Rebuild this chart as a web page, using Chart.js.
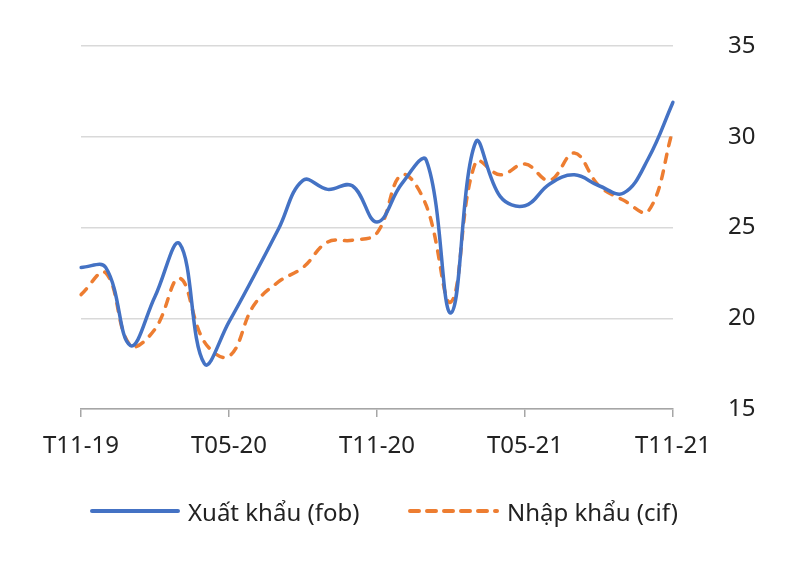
<!DOCTYPE html>
<html>
<head>
<meta charset="utf-8">
<script src="https://cdn.jsdelivr.net/npm/chart.js@4"></script>
<style>
  html, body { margin: 0; padding: 0; background: #fff; }
  #wrap { position: relative; width: 800px; height: 561px; font-family: 'Noto Sans', sans-serif; }
  .leg { position: absolute; top: 494px; height: 34px; display: flex; align-items: center;
         font-size: 24px; color: #222; white-space: nowrap; }
  .leg svg { margin-right: 8px; }
</style>
</head>
<body>
<div id="wrap">
  <canvas id="chart" width="800" height="561"></canvas>
  <div class="leg" style="left:90px">
    <svg width="90" height="10"><line x1="2" y1="5" x2="88" y2="5" stroke="#4472C4" stroke-width="4" stroke-linecap="round"/></svg>
    <span>Xuất khẩu (fob)</span>
  </div>
  <div class="leg" style="left:407px">
    <svg width="92" height="10"><line x1="3" y1="5" x2="90" y2="5" stroke="#ED7D31" stroke-width="4" stroke-linecap="round" stroke-dasharray="9 8"/></svg>
    <span>Nhập khẩu (cif)</span>
  </div>
</div>
<script>
var labels = ['T11-19', 'T12-19', 'T01-20', 'T02-20', 'T03-20', 'T04-20', 'T05-20', 'T06-20', 'T07-20',
              'T08-20', 'T09-20', 'T10-20', 'T11-20', 'T12-20', 'T01-21', 'T02-21', 'T03-21', 'T04-21',
              'T05-21', 'T06-21', 'T07-21', 'T08-21', 'T09-21', 'T10-21', 'T11-21'];
var xuatKhau = [22.8, 22.8, 18.5, 21.2, 24.1, 17.5, 19.8, 22.3, 24.9, 27.6, 27.1, 27.3, 25.3,
                27.4, 28.7, 20.3, 29.7, 26.7, 26.2, 27.4, 27.9, 27.3, 26.9, 28.8, 31.9];
var nhapKhau = [21.3, 22.5, 18.5, 19.4, 22.2, 18.7, 17.9, 20.7, 22.0, 22.8, 24.2, 24.3, 24.7,
                27.9, 26.2, 20.9, 28.6, 27.9, 28.5, 27.6, 29.1, 27.3, 26.5, 25.9, 30.4];
var yTicks = [15, 20, 25, 30, 35];

var FONT = { family: "'Noto Sans', sans-serif", size: 24 };
var TEXT = '#222';

new Chart(document.getElementById('chart'), {
    type: 'line',
    data: {
        labels: labels,
        datasets: [
            { label: 'Xuất khẩu (fob)', data: xuatKhau, borderColor: '#4472C4', backgroundColor: '#4472C4',
              borderWidth: 3.5, pointRadius: 0, tension: 0.4, borderCapStyle: 'round' },
            { label: 'Nhập khẩu (cif)', data: nhapKhau, borderColor: '#ED7D31', backgroundColor: '#ED7D31',
              borderWidth: 3.5, pointRadius: 0, tension: 0.4, borderDash: [8, 9], borderCapStyle: 'round' }
        ]
    },
    options: {
        responsive: false,
        animation: false,
        layout: { padding: { left: 81, right: 37, top: 46, bottom: 92 } },
        plugins: {
            tooltip: { enabled: false },
            legend: { display: false }
        },
        scales: {
            x: {
                offset: false,
                grid: {
                    drawOnChartArea: false, tickLength: 8, lineWidth: 1.5,
                    color: function (ctx) { return ctx.index % 6 === 0 ? '#a6a6a6' : 'rgba(0,0,0,0)'; }
                },
                border: { color: '#a6a6a6', width: 1.5 },
                ticks: {
                    color: TEXT, font: FONT, autoSkip: false, maxRotation: 0, padding: 15,
                    callback: function (val, i) { return i % 6 === 0 ? labels[i] : ''; }
                },
                afterFit: function (scale) { scale.height = 60; }
            },
            y: {
                position: 'right',
                min: 15, max: 35,
                afterBuildTicks: function (scale) { scale.ticks = yTicks.map(function (v) { return { value: v }; }); },
                grid: { color: '#d9d9d9', lineWidth: 1.5, drawTicks: true, tickLength: 28, tickColor: 'rgba(0,0,0,0)' },
                border: { display: false },
                ticks: { color: TEXT, font: FONT, padding: 27 },
                afterFit: function (scale) { scale.width = 90; }
            }
        }
    }
});
</script>
</body>
</html>
